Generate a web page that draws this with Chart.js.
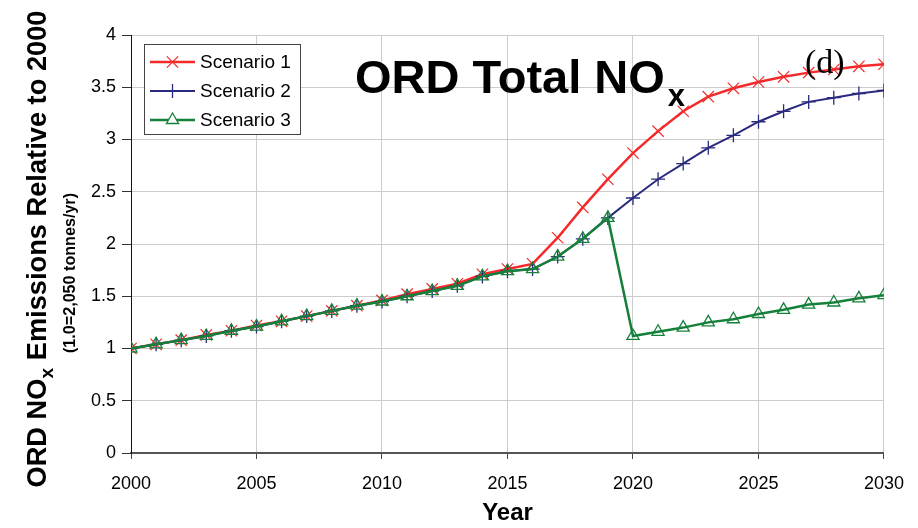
<!DOCTYPE html>
<html>
<head>
<meta charset="utf-8">
<script src="https://cdn.jsdelivr.net/npm/chart.js@4/dist/chart.umd.min.js"></script>
<style>
html, body { margin: 0; padding: 0; background: #ffffff; }
#wrap { width: 918px; height: 528px; position: relative; }
</style>
</head>
<body>
<div id="wrap"><canvas id="noxChart" width="918" height="528"></canvas></div>
<script>
// ========================================
// Data
// ========================================

const years = [2000, 2001, 2002, 2003, 2004, 2005, 2006, 2007, 2008, 2009, 2010,
  2011, 2012, 2013, 2014, 2015, 2016, 2017, 2018, 2019, 2020,
  2021, 2022, 2023, 2024, 2025, 2026, 2027, 2028, 2029, 2030];

const scenario1 = [1.00, 1.04, 1.08, 1.13, 1.17, 1.22, 1.26, 1.31, 1.36, 1.41, 1.46,
  1.52, 1.57, 1.62, 1.71, 1.76, 1.81, 2.06, 2.35, 2.62, 2.87,
  3.08, 3.27, 3.41, 3.49, 3.55, 3.60, 3.64, 3.67, 3.70, 3.72];

const scenario2 = [1.00, 1.04, 1.08, 1.12, 1.17, 1.21, 1.26, 1.31, 1.36, 1.41, 1.45,
  1.50, 1.55, 1.60, 1.69, 1.74, 1.76, 1.88, 2.05, 2.25, 2.44,
  2.62, 2.77, 2.92, 3.04, 3.17, 3.27, 3.36, 3.40, 3.44, 3.47];

const scenario3 = [1.00, 1.04, 1.08, 1.12, 1.17, 1.21, 1.26, 1.31, 1.36, 1.41, 1.45,
  1.50, 1.55, 1.60, 1.69, 1.74, 1.76, 1.88, 2.05, 2.25, 1.12,
  1.16, 1.20, 1.25, 1.28, 1.33, 1.37, 1.42, 1.44, 1.48, 1.51];

const seriesNames = ["Scenario 1", "Scenario 2", "Scenario 3"];

const yTicks = [0, 0.5, 1, 1.5, 2, 2.5, 3, 3.5, 4];
const xTicks = [2000, 2005, 2010, 2015, 2020, 2025, 2030];

function pairs(vals) {
  return years.map((y, i) => ({ x: y, y: vals[i] }));
}

// ========================================
// Titles + legend drawn on the canvas
// ========================================

const FONT = "'Liberation Sans', Arial, sans-serif";

function drawParts(ctx, parts, x, y, fitWidth) {
  // parts: [text, fontSize, baselineShift]
  let total = 0;
  parts.forEach(p => {
    ctx.font = "bold " + p[1] + "px " + FONT;
    total += ctx.measureText(p[0]).width;
  });
  const k = fitWidth ? fitWidth / total : 1;
  ctx.save();
  ctx.translate(x, y);
  ctx.scale(k, 1);
  ctx.translate(-total / 2, 0);
  let cx = 0;
  parts.forEach(p => {
    ctx.font = "bold " + p[1] + "px " + FONT;
    ctx.fillText(p[0], cx, p[2]);
    cx += ctx.measureText(p[0]).width;
  });
  ctx.restore();
}

const decorPlugin = {
  id: "decor",
  afterDraw(chart) {
    const ctx = chart.ctx;
    ctx.save();
    ctx.fillStyle = "#000";
    ctx.textBaseline = "alphabetic";
    ctx.textAlign = "left";

    // y axis title (rotated)
    ctx.save();
    ctx.translate(46, 249);
    ctx.rotate(-Math.PI / 2);
    drawParts(ctx, [["ORD NO", 27, 0], ["x", 19, 7], [" Emissions Relative to 2000", 27, 0]], 0, 0, 477);
    ctx.restore();

    ctx.save();
    ctx.translate(75, 273);
    ctx.rotate(-Math.PI / 2);
    drawParts(ctx, [["(1.0=2,050 tonnes/yr)", 17, 0]], 0, 0, 160);
    ctx.restore();

    // chart title
    ctx.font = "bold 47px " + FONT;
    ctx.fillText("ORD Total NO", 355, 93);
    const w = ctx.measureText("ORD Total NO").width;
    ctx.font = "bold 31px " + FONT;
    ctx.fillText("x", 355 + w + 3, 106);

    ctx.font = "34px 'Liberation Serif', 'Times New Roman', serif";
    ctx.fillText("(d)", 805, 73);

    // legend
    const box = { x: 144.5, y: 44.5, w: 156, h: 90 };
    ctx.fillStyle = "#fff";
    ctx.fillRect(box.x, box.y, box.w, box.h);
    ctx.strokeStyle = "#444";
    ctx.lineWidth = 1;
    ctx.strokeRect(box.x, box.y, box.w, box.h);

    const rows = [62, 91, 120];
    chart.data.datasets.forEach((ds, i) => {
      const ry = rows[i];
      ctx.strokeStyle = ds.borderColor;
      ctx.lineWidth = ds.borderWidth;
      ctx.beginPath();
      ctx.moveTo(150, ry);
      ctx.lineTo(195, ry);
      ctx.stroke();
      ctx.lineWidth = ds.pointBorderWidth;
      ctx.strokeStyle = ds.pointBorderColor;
      ctx.fillStyle = "#fff";
      Chart.helpers.drawPoint(ctx, {
        pointStyle: ds.pointStyle,
        radius: ds.pointRadius,
        rotation: 0,
        borderWidth: ds.pointBorderWidth
      }, 172.5, ry);
      ctx.fillStyle = "#000";
      ctx.font = "19px " + FONT;
      ctx.textBaseline = "middle";
      ctx.fillText(ds.label, 200, ry + 1);
    });
    ctx.restore();
  }
};

// ========================================
// Chart
// ========================================

Chart.defaults.font.family = FONT;
Chart.defaults.color = "#000";

new Chart(document.getElementById("noxChart"), {
  type: "line",
  data: {
    datasets: [
      {
        label: seriesNames[0],
        data: pairs(scenario1),
        borderColor: "#f42a2a",
        borderWidth: 2.5,
        pointStyle: "crossRot",
        pointRadius: 8,
        pointBorderColor: "#f42a2a",
        pointBorderWidth: 1.2,
        pointBackgroundColor: "rgba(0,0,0,0)",
        order: 3
      },
      {
        label: seriesNames[1],
        data: pairs(scenario2),
        borderColor: "#2a2a7e",
        borderWidth: 2,
        pointStyle: "cross",
        pointRadius: 7,
        pointBorderColor: "#2a2a7e",
        pointBorderWidth: 1.3,
        pointBackgroundColor: "rgba(0,0,0,0)",
        order: 2
      },
      {
        label: seriesNames[2],
        data: pairs(scenario3),
        borderColor: "#16803a",
        borderWidth: 2.5,
        pointStyle: "triangle",
        pointRadius: 7,
        pointBorderColor: "#16803a",
        pointBorderWidth: 1.3,
        pointBackgroundColor: "rgba(0,0,0,0)",
        order: 1
      }
    ]
  },
  options: {
    responsive: false,
    animation: false,
    layout: { padding: { left: 80, right: 33, top: 35, bottom: 0 } },
    plugins: {
      legend: { display: false },
      tooltip: { enabled: false }
    },
    scales: {
      x: {
        type: "linear",
        min: 2000,
        max: 2030,
        afterBuildTicks: s => { s.ticks = xTicks.map(v => ({ value: v })); },
        afterFit: s => { s.height = 75; },
        ticks: {
          font: { size: 18 },
          padding: 14,
          maxRotation: 0,
          callback: v => String(v)
        },
        grid: { color: "#cccccc", lineWidth: 1, tickLength: 6, tickColor: "#444" },
        border: { color: "#555", width: 2 },
        title: {
          display: true,
          text: "Year",
          font: { size: 24, weight: "bold" },
          padding: { top: 0, bottom: 0 }
        }
      },
      y: {
        min: 0,
        max: 4,
        afterBuildTicks: s => { s.ticks = yTicks.map(v => ({ value: v })); },
        afterFit: s => { s.width = 51; },
        ticks: { font: { size: 18 }, padding: 6, callback: v => String(v) },
        grid: { color: "#cccccc", lineWidth: 1, tickLength: 9, tickColor: "#333" },
        border: { color: "#111", width: 1 }
      }
    }
  },
  plugins: [decorPlugin]
});
</script>
</body>
</html>
